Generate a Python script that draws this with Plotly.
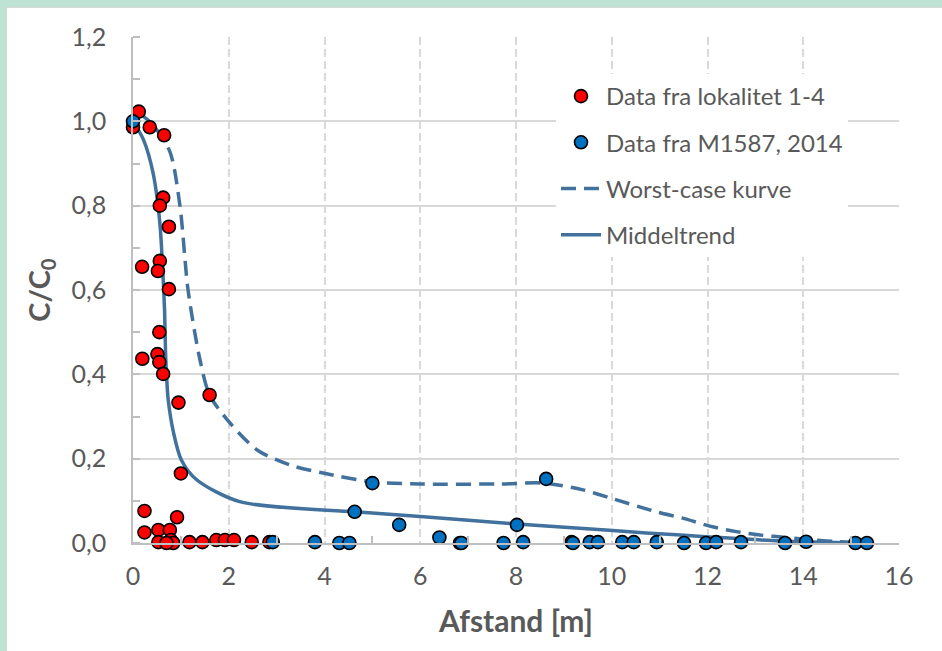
import plotly.graph_objects as go

# ---- data ----
red_x = [0.0, 0.12, 0.35, 0.65, 0.63, 0.56, 0.75, 0.19, 0.56, 0.52, 0.75, 0.55, 0.195, 0.51, 0.55, 0.63,
         0.95, 1.6, 1.0, 0.24, 0.92, 0.24, 0.53, 0.77, 0.53, 0.79, 0.84, 0.70, 1.18, 1.45, 1.74, 1.92,
         2.11, 2.48, 2.85]
red_y = [0.986, 1.023, 0.986, 0.967, 0.819, 0.80, 0.75, 0.655, 0.669, 0.645, 0.602, 0.50, 0.437, 0.448,
         0.429, 0.401, 0.333, 0.351, 0.165, 0.076, 0.061, 0.025, 0.031, 0.031, 0.002, 0.007, 0.0, 0.0,
         0.002, 0.002, 0.007, 0.007, 0.007, 0.002, 0.002]

blue_x = [0.0, 2.92, 3.80, 4.31, 4.52, 4.63, 5.0, 5.56, 6.40, 6.83, 6.86, 7.74, 8.02, 8.15, 8.63, 9.16,
          9.19, 9.54, 9.71, 10.22, 10.46, 10.94, 11.51, 11.97, 12.18, 12.70, 13.62, 14.06, 15.09, 15.33]
blue_y = [1.0, 0.002, 0.002, 0.0, 0.0, 0.074, 0.142, 0.043, 0.013, 0.0, 0.0, 0.0, 0.043, 0.002, 0.152,
          0.002, 0.0, 0.002, 0.002, 0.002, 0.002, 0.002, 0.0, 0.0, 0.002, 0.002, 0.0, 0.003, 0.0, 0.0]

worst_x = [0.11, 0.39, 0.77, 0.98, 1.15, 1.40, 1.60, 2.03, 2.60, 3.28, 3.97, 5.0, 6.0, 7.66, 8.6,
           9.4, 9.96, 10.93, 11.48, 12.05, 12.6, 13.09, 13.65, 14.2, 14.76, 15.3]
worst_y = [1.02, 0.995, 0.928, 0.80, 0.60, 0.434, 0.351, 0.284, 0.22, 0.185, 0.166, 0.145, 0.140,
           0.140, 0.142, 0.126, 0.107, 0.074, 0.059, 0.040, 0.027, 0.019, 0.013, 0.007, 0.003, 0.0]

mid_x = [0.0, 0.22, 0.42, 0.56, 0.62, 0.66, 0.68, 0.70, 0.735, 0.85, 1.01, 1.33, 2.23, 4.63, 6.0,
         8.02, 9.33, 10.72, 11.97, 13.5, 15.3]
mid_y = [1.0, 0.956, 0.877, 0.76, 0.65, 0.55, 0.45, 0.40, 0.34, 0.26, 0.197, 0.15, 0.098, 0.074,
         0.063, 0.045, 0.035, 0.024, 0.015, 0.005, 0.0]

x_ticks = [0, 2, 4, 6, 8, 10, 12, 14, 16]
y_ticks = [0.0, 0.2, 0.4, 0.6, 0.8, 1.0, 1.2]

FONT = "Lato, Carlito, sans-serif"
GREY = "#595959"
LINE = "#41719C"

fig = go.Figure()
fig.add_trace(go.Scatter(x=worst_x, y=worst_y, mode="lines", name="Worst-case kurve",
                         line=dict(color=LINE, width=3.5, dash="15px,8px", shape="spline", smoothing=0.8),
                         legendrank=3, legendgroup="c", cliponaxis=False))
fig.add_trace(go.Scatter(x=mid_x, y=mid_y, mode="lines", name="Middeltrend",
                         line=dict(color=LINE, width=3.5, shape="spline", smoothing=0.8),
                         legendrank=4, legendgroup="d", cliponaxis=False))
fig.add_trace(go.Scatter(x=red_x, y=red_y, mode="markers", name="Data fra lokalitet 1-4",
                         marker=dict(color="#FF0000", size=13, line=dict(color="black", width=1.6)),
                         legendrank=1, legendgroup="a", cliponaxis=False))
fig.add_trace(go.Scatter(x=blue_x, y=blue_y, mode="markers", name="Data fra M1587, 2014",
                         marker=dict(color="#0070C0", size=13, line=dict(color="black", width=1.6)),
                         legendrank=2, legendgroup="b", cliponaxis=False))

W, H = 942, 651
L, R, T, B = 133, 43, 37, 108
pw, ph = W - L - R, H - T - B

def px(xp):
    return (xp - L) / pw

def py(yp):
    return (H - B - yp) / ph

green = "#BFE3D2"
fig.add_shape(type="rect", xref="paper", yref="paper", x0=px(0), x1=px(W), y0=py(7), y1=py(0),
              fillcolor=green, line_width=0, layer="below")
fig.add_shape(type="rect", xref="paper", yref="paper", x0=px(0), x1=px(6), y0=py(H), y1=py(0),
              fillcolor=green, line_width=0, layer="below")
fig.add_shape(type="line", xref="paper", yref="paper", x0=px(6), x1=px(W), y0=py(7.5), y1=py(7.5),
              line=dict(color="#D9D9D9", width=1), layer="below")
fig.add_shape(type="line", xref="paper", yref="paper", x0=px(6.5), x1=px(6.5), y0=py(H), y1=py(7.5),
              line=dict(color="#D9D9D9", width=1), layer="below")

fig.update_layout(
    width=W, height=H,
    margin=dict(l=L, r=R, t=T, b=B, pad=0),
    paper_bgcolor="white", plot_bgcolor="white",
    separators=", ",
    font=dict(family=FONT, color=GREY, size=25),
    showlegend=True,
    legend=dict(x=px(556), y=py(74), xanchor="left", yanchor="top",
                bgcolor="white", font=dict(family=FONT, size=24, color=GREY),
                traceorder="grouped", tracegroupgap=12, itemwidth=40),
    xaxis=dict(range=[0, 16], tickvals=x_ticks, ticktext=[str(v) for v in x_ticks],
               showgrid=True, gridcolor="#D9D9D9", gridwidth=1.5, griddash="8px,4px",
               showline=True, linecolor="#BFBFBF", linewidth=1.5, zeroline=False,
               ticks="", ticklabelstandoff=10,
               minor=dict(tickvals=[1, 3, 5, 7, 9, 11, 13, 15], ticks="inside", ticklen=7,
                          tickcolor="#BFBFBF", tickwidth=1.5, showgrid=False),
               tickfont=dict(family=FONT, size=25, color=GREY),
               title=dict(text="Afstand [m]", standoff=22,
                          font=dict(family=FONT, size=30, color=GREY, weight="bold"))),
    yaxis=dict(range=[0, 1.2], tickvals=y_ticks, tickformat=".1f",
               showgrid=True, gridcolor="#D9D9D9", gridwidth=1.5,
               showline=True, linecolor="#BFBFBF", linewidth=1.5, zeroline=False,
               ticks="", ticklabelstandoff=20,
               minor=dict(dtick=0.1, ticks="inside", ticklen=7, tickcolor="#BFBFBF",
                          tickwidth=1.5, showgrid=False),
               tickfont=dict(family=FONT, size=25, color=GREY),
               title=dict(text="C/C<sub>0</sub>", standoff=12,
                          font=dict(family=FONT, size=29, color=GREY, weight="bold"))),
)

fig.write_html("out.html")
